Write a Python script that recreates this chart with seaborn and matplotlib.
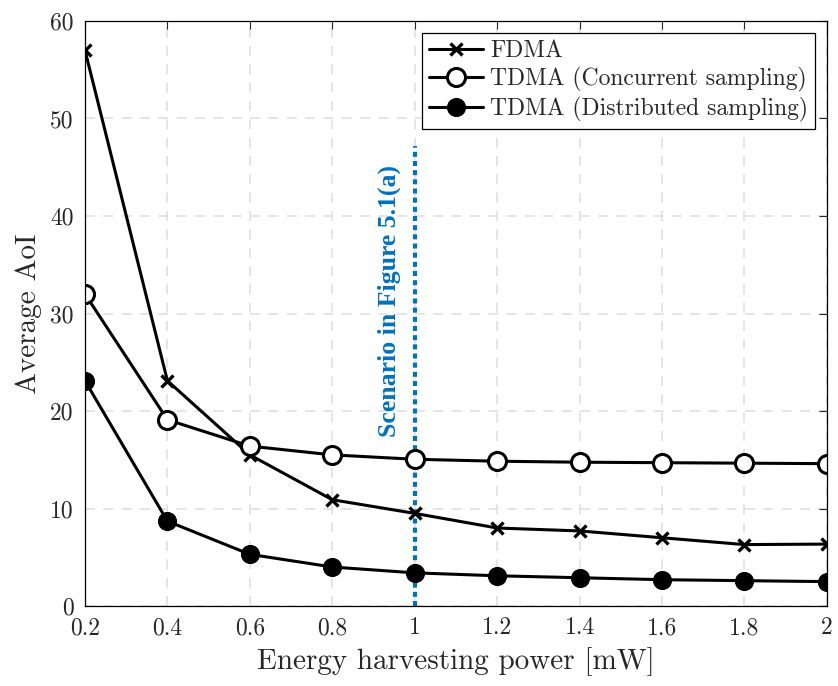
import matplotlib
matplotlib.use("Agg")
import matplotlib.pyplot as plt
import seaborn as sns
import pandas as pd

power = [0.2, 0.4, 0.6, 0.8, 1.0, 1.2, 1.4, 1.6, 1.8, 2.0]
fdma = [57.0, 23.1, 15.5, 10.9, 9.5, 8.0, 7.7, 7.0, 6.3, 6.35]
tdma_concurrent = [32.0, 19.1, 16.4, 15.5, 15.05, 14.85, 14.75, 14.7, 14.65, 14.6]
tdma_distributed = [23.1, 8.7, 5.3, 4.0, 3.4, 3.1, 2.9, 2.7, 2.6, 2.5]

sns.set_style("white")
plt.rcParams["font.family"] = ["cmr10", "DejaVu Serif"]
plt.rcParams["axes.unicode_minus"] = False
plt.rcParams["mathtext.fontset"] = "cm"

df = pd.DataFrame({"power": power, "fdma": fdma,
                   "conc": tdma_concurrent, "dist": tdma_distributed})

fig = plt.figure(figsize=(8.38, 6.86), dpi=100)
ax = fig.add_axes([0.1014, 0.1166, 0.8854, 0.8528])

sns.lineplot(data=df, x="power", y="fdma", ax=ax, color="black", lw=2.2,
             marker="x", markersize=9, markeredgewidth=2.4,
             markeredgecolor="black", label="FDMA")
sns.lineplot(data=df, x="power", y="conc", ax=ax, color="black", lw=2.2,
             marker="o", markersize=13, markerfacecolor="white",
             markeredgecolor="black", markeredgewidth=2.2,
             label="TDMA (Concurrent sampling)")
sns.lineplot(data=df, x="power", y="dist", ax=ax, color="black", lw=2.2,
             marker="o", markersize=13, markerfacecolor="black",
             markeredgecolor="black", label="TDMA (Distributed sampling)")

# scenario marker
ax.plot([1.0, 1.0], [0, 47.2], color="#0072BD", lw=3, ls=(0, (1.2, 1.0)),
        zorder=1)
ax.text(0.938, 31.3, "Scenario in Figure 5.1(a)", rotation=90,
        ha="center", va="center", color="#0072BD", fontsize=18.5,
        fontweight="bold", family=["Liberation Serif"])

ax.set_xlim(0.2, 2.0)
ax.set_ylim(0, 60)
ax.set_xticks(power)
ax.set_xticklabels(["0.2", "0.4", "0.6", "0.8", "1", "1.2", "1.4", "1.6", "1.8", "2"])
ax.set_yticks([0, 10, 20, 30, 40, 50, 60])
ax.tick_params(direction="in", labelsize=17, top=True, right=True,
               length=6, width=0.8, pad=8)
ax.grid(True, color="#e0e0e0", ls=(0, (6, 5)), lw=1.2)
for s in ax.spines.values():
    s.set_color("black")
    s.set_linewidth(0.9)

ax.set_xlabel("Energy harvesting power [mW]", fontsize=21, labelpad=6)
ax.set_ylabel("Average AoI", fontsize=21, labelpad=6)

leg = ax.legend(loc="upper right", fontsize=17, frameon=True, fancybox=False,
                edgecolor="black", framealpha=1, borderpad=0.3,
                handlelength=2.3, handletextpad=0.3, labelspacing=0.2,
                borderaxespad=0.5)
leg.get_frame().set_linewidth(0.9)

fig.savefig("out.png", dpi=100)
